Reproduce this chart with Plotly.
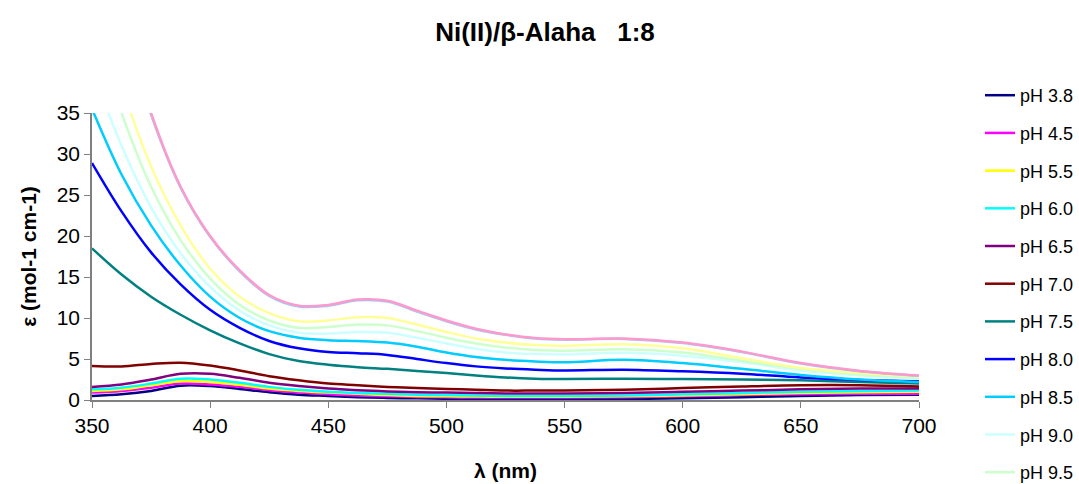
import plotly.graph_objects as go

wavelength = [350, 362.5, 375, 387.5, 400, 412.5, 425, 437.5, 450, 462.5, 475, 487.5,
              500, 512.5, 525, 537.5, 550, 575, 600, 625, 650, 675, 700]

labels = ["pH 3.8", "pH 4.5", "pH 5.5", "pH 6.0", "pH 6.5", "pH 7.0", "pH 7.5",
          "pH 8.0", "pH 8.5", "pH 9.0", "pH 9.5", "pH 10.0", "pH 10.5", "pH 11.0"]

colors = ["#000080", "#FF00FF", "#FFFF00", "#00FFFF", "#800080", "#800000", "#008080",
          "#0000FF", "#00CCFF", "#CCFFFF", "#CCFFCC", "#FFFF99", "#99CCFF", "#FF99CC"]

ph_3_8 = [0.5, 0.7, 1.1, 1.75, 1.7, 1.35, 0.95, 0.65, 0.5, 0.35, 0.25, 0.2, 0.15, 0.12, 0.1, 0.1, 0.1, 0.12, 0.2, 0.35, 0.5, 0.6, 0.65]
ph_4_5 = [0.9, 1.1, 1.5, 2.0, 1.9, 1.6, 1.2, 0.9, 0.7, 0.55, 0.45, 0.38, 0.33, 0.31, 0.3, 0.3, 0.3, 0.35, 0.45, 0.6, 0.7, 0.75, 0.75]
ph_5_5 = [1.1, 1.3, 1.8, 2.3, 2.2, 1.85, 1.4, 1.1, 0.9, 0.75, 0.6, 0.5, 0.45, 0.42, 0.4, 0.4, 0.4, 0.45, 0.55, 0.7, 0.85, 0.95, 1.0]
ph_6_0 = [1.3, 1.5, 2.0, 2.6, 2.5, 2.1, 1.6, 1.25, 1.0, 0.85, 0.75, 0.65, 0.6, 0.55, 0.5, 0.5, 0.5, 0.55, 0.7, 0.85, 1.0, 1.1, 1.15]
ph_6_5 = [1.6, 1.9, 2.5, 3.2, 3.2, 2.7, 2.1, 1.7, 1.4, 1.2, 1.05, 0.95, 0.9, 0.85, 0.8, 0.8, 0.8, 0.85, 1.0, 1.15, 1.3, 1.4, 1.4]
ph_7_0 = [4.15, 4.1, 4.4, 4.55, 4.2, 3.6, 2.9, 2.4, 2.0, 1.8, 1.6, 1.45, 1.35, 1.25, 1.15, 1.15, 1.15, 1.25, 1.45, 1.65, 1.8, 1.8, 1.65]
ph_7_5 = [18.5, 15.3, 12.6, 10.4, 8.5, 6.9, 5.6, 4.75, 4.3, 4.0, 3.8, 3.55, 3.3, 3.0, 2.75, 2.6, 2.55, 2.6, 2.55, 2.5, 2.4, 2.2, 2.0]
ph_8_0 = [28.9, 23.0, 18.0, 14.1, 11.0, 8.8, 7.2, 6.3, 5.85, 5.7, 5.5, 5.0, 4.5, 4.1, 3.85, 3.7, 3.6, 3.7, 3.5, 3.2, 2.75, 2.45, 2.3]
ph_8_5 = [35.5, 27.5, 21.3, 16.4, 12.6, 10.0, 8.4, 7.6, 7.3, 7.2, 7.0, 6.5, 5.8, 5.25, 4.9, 4.7, 4.6, 4.9, 4.5, 3.8, 3.05, 2.5, 2.2]
ph_9_0 = [40.5, 31.0, 23.5, 17.9, 13.8, 10.9, 9.1, 8.2, 8.1, 8.3, 8.2, 7.6, 6.9, 6.25, 5.8, 5.6, 5.55, 5.75, 5.4, 4.6, 3.6, 3.0, 2.6]
ph_9_5 = [46.0, 35.0, 26.0, 19.5, 14.8, 11.6, 9.7, 8.8, 8.9, 9.2, 9.1, 8.4, 7.6, 6.9, 6.4, 6.1, 6.0, 6.2, 5.8, 4.8, 3.8, 3.1, 2.7]
ph_10_0 = [52.0, 38.5, 28.5, 21.3, 16.0, 12.6, 10.6, 9.6, 9.7, 10.1, 10.0, 9.2, 8.3, 7.5, 7.0, 6.7, 6.6, 6.8, 6.3, 5.1, 3.9, 3.3, 2.9]
ph_10_5 = [61.8, 46.8, 34.8, 25.9, 19.9, 15.7, 12.7, 11.4, 11.5, 12.15, 12.0, 10.8, 9.6, 8.6, 7.95, 7.5, 7.35, 7.45, 6.95, 5.85, 4.45, 3.5, 2.95]
ph_11_0 = [62.0, 47.0, 35.0, 26.0, 20.0, 15.8, 12.8, 11.5, 11.6, 12.25, 12.1, 10.9, 9.7, 8.7, 8.0, 7.55, 7.4, 7.5, 7.0, 5.9, 4.5, 3.55, 3.0]

series = [ph_3_8, ph_4_5, ph_5_5, ph_6_0, ph_6_5, ph_7_0, ph_7_5, ph_8_0, ph_8_5,
          ph_9_0, ph_9_5, ph_10_0, ph_10_5, ph_11_0]

visible_legend = 11

fig = go.Figure()
for i, (lab, col, ys) in enumerate(zip(labels, colors, series)):
    fig.add_trace(go.Scatter(
        x=wavelength, y=ys, name=lab, mode="lines",
        line=dict(color=col, width=2.5, shape="spline", smoothing=1.0),
        legendgroup=lab, showlegend=i < visible_legend,
    ))

fig.update_layout(
    width=1079, height=484,
    margin=dict(l=92, r=160, t=113, b=84),
    paper_bgcolor="white", plot_bgcolor="white",
    font=dict(family="Liberation Sans, Arial, sans-serif", color="black"),
    title=dict(text="Ni(II)/β-Alaha   1:8", x=545 / 1079, xref="container", xanchor="center",
               y=1 - 32 / 484, yref="container", yanchor="middle",
               font=dict(size=26, weight="bold")),
    legend=dict(xref="container", yref="container", x=980 / 1079, y=1 - 77 / 484,
                xanchor="left", yanchor="top", font=dict(size=18),
                tracegroupgap=11.3, bgcolor="rgba(0,0,0,0)", maxheight=440),
    showlegend=True,
)
fig.update_xaxes(range=[350, 700], dtick=50, tick0=350, showgrid=False, zeroline=False,
                 showline=True, linecolor="#808080", linewidth=1.5,
                 ticks="outside", ticklen=6, tickcolor="#808080",
                 tickfont=dict(size=21), automargin=False,
                 title=dict(text="λ (nm)", font=dict(size=21, weight="bold"), standoff=27))
fig.update_yaxes(range=[0, 35], dtick=5, showgrid=False, zeroline=False,
                 showline=True, linecolor="#808080", linewidth=1.5,
                 ticks="outside", ticklen=6, tickcolor="#808080",
                 tickfont=dict(size=21), automargin=False,
                 title=dict(text="ε (mol-1 cm-1)", font=dict(size=21, weight="bold"), standoff=14))

fig.write_html("out.html", post_script="document.body.style.margin='0';",
               config={"displayModeBar": False})
